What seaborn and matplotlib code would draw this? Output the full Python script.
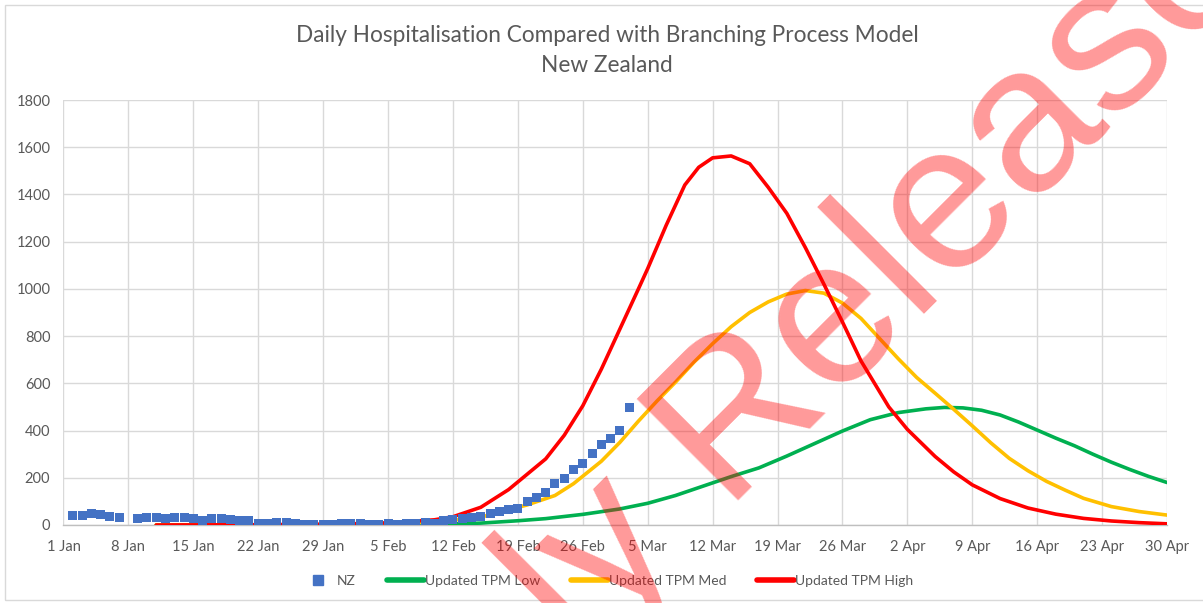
import numpy as np
import pandas as pd
import matplotlib
matplotlib.use("Agg")
import matplotlib.pyplot as plt
from matplotlib.lines import Line2D
from matplotlib.patches import Rectangle
from matplotlib.transforms import IdentityTransform
import seaborn as sns

sns.set_style("white")
plt.rcParams["font.family"] = ["Lato", "DejaVu Sans"]

START = pd.Timestamp("2022-01-01")

# ---------------- data ----------------
nz_days = list(range(1, 62))
nz_values = [42, 42, 50, 44, 36, 31, np.nan, 27, 31, 31, 28, 31, 30, 26, 20, 26,
             26, 22, 20, 17, 5, 5, 10, 10, 5, 4, 4, 4, 4, 8, 8, 6, 3, 3, 8, 4,
             7, 8, 10, 5, 21, 24, 28, 32, 35, 50, 58, 66, 70, 99, 115, 137, 176,
             198, 234, 261, 301, 340, 365, 402, 498]

low_days = [10, 20, 30, 40, 45, 49, 52, 56, 60, 63, 66, 69, 72, 75, 78, 81, 84,
            87, 90, 93, 95, 97, 99, 101, 103, 105, 107, 109, 111, 113, 115, 117, 119]
low_values = [0, 0, 1, 3, 8, 18, 27, 45, 68, 92, 125, 165, 205, 242, 292, 345, 398,
              446, 476, 492, 498, 496, 486, 466, 436, 402, 368, 336, 300, 266, 235, 206, 180]

med_days = [10, 20, 30, 40, 45, 50, 53, 55, 58, 60, 62, 64, 66, 68, 70, 72, 74, 76,
            78, 80, 82, 84, 86, 88, 90, 92, 94, 96, 98, 100, 102, 104, 106, 108,
            110, 113, 116, 119]
med_values = [0, 0, 2, 12, 33, 85, 125, 175, 270, 350, 440, 525, 605, 690, 768, 840,
              900, 945, 978, 993, 982, 940, 875, 790, 705, 625, 558, 490, 420, 348,
              282, 230, 185, 148, 113, 78, 57, 42]

high_days = [10, 20, 30, 35, 40, 42, 45, 48, 50, 52, 54, 56, 58, 60, 62, 63, 65, 67,
             68.5, 70, 72, 74, 76, 78, 80, 82, 84, 86, 89, 91, 94, 96, 98, 101, 104,
             107, 110, 113, 116, 119]
high_values = [0, 1, 4, 9, 22, 35, 75, 150, 215, 280, 380, 505, 660, 830, 1000,
               1086, 1270, 1440, 1515, 1555, 1563, 1530, 1430, 1320, 1175, 1020, 860,
               695, 500, 405, 290, 225, 170, 112, 72, 46, 28, 17, 10, 5]

tick_labels = ["1 Jan", "8 Jan", "15 Jan", "22 Jan", "29 Jan", "5 Feb", "12 Feb",
               "19 Feb", "26 Feb", "5 Mar", "12 Mar", "19 Mar", "26 Mar", "2 Apr",
               "9 Apr", "16 Apr", "23 Apr", "30 Apr"]
y_ticks = [0, 200, 400, 600, 800, 1000, 1200, 1400, 1600, 1800]

title = "Daily Hospitalisation Compared with Branching Process Model\nNew Zealand"
series_names = ["NZ", "Updated TPM Low", "Updated TPM Med", "Updated TPM High"]
colors = {"NZ": "#4472C4", "Updated TPM Low": "#00B050",
          "Updated TPM Med": "#FFC000", "Updated TPM High": "#FF0000"}
watermark = "Proactively Released"


def to_dates(days):
    return START + pd.to_timedelta(days, unit="D")


# ---------------- figure ----------------
W, H = 1203, 603
fig = plt.figure(figsize=(W / 100, H / 100), dpi=100)
ax = fig.add_axes([63.5 / W, 1 - 525 / H, (1167 - 63.5) / W, (525 - 100) / H])

nz_df = pd.DataFrame({"date": to_dates(nz_days), "value": nz_values}).dropna()

line_data = [("Updated TPM Low", low_days, low_values),
             ("Updated TPM Med", med_days, med_values),
             ("Updated TPM High", high_days, high_values)]
for name, d, v in line_data:
    sns.lineplot(x=to_dates(d), y=v, color=colors[name], lw=2.6, ax=ax,
                 legend=False, zorder=3)

sns.scatterplot(data=nz_df, x="date", y="value", marker="s", s=42,
                color=colors["NZ"], edgecolor="none", ax=ax, legend=False,
                zorder=4)

ax.set_xlim(START, START + pd.Timedelta(days=119))
ax.set_ylim(0, 1800)
tick_dates = [START + pd.Timedelta(days=7 * i) for i in range(len(tick_labels))]
ax.set_xticks(tick_dates)
ax.set_xticklabels(tick_labels)
ax.set_yticks(y_ticks)
ax.set_yticklabels([str(t) for t in y_ticks])
ax.set_xlabel("")
ax.set_ylabel("")
ax.grid(True, color="#D9D9D9", lw=1.0)
ax.set_axisbelow(True)
for s in ["top", "right", "left"]:
    ax.spines[s].set_visible(False)
ax.spines["bottom"].set_color("#BFBFBF")
ax.spines["bottom"].set_linewidth(1.0)
ax.tick_params(axis="both", length=0, colors="#595959", labelsize=10.5)
ax.tick_params(axis="x", pad=11)
ax.tick_params(axis="y", pad=9.5)

fig.text(607 / W, 1 - 50.5 / H, title, ha="center", va="center", fontsize=16.3,
         color="#595959", linespacing=1.58)

handles = [Line2D([], [], marker="s", ls="none", color=colors["NZ"], markersize=7)]
handles += [Line2D([], [], color=colors[n], lw=4) for n in series_names[1:]]
fig.legend(handles, series_names, loc="center", bbox_to_anchor=(606 / W, 1 - 581 / H),
           ncol=4, frameon=False, fontsize=10, handlelength=2.7,
           handletextpad=0.05, columnspacing=2.2, labelcolor="#595959")

# chart border
fig.add_artist(Rectangle((5 / W, 3 / H), (W + 10) / W, (H - 8) / H,
                         transform=fig.transFigure, fill=False,
                         edgecolor="#D9D9D9", lw=1.0))

# watermark: place so that the "R" of "Released" starts at a given pixel
wm_size = 150
wm_family = ["Liberation Sans", "DejaVu Sans"]
renderer = fig.canvas.get_renderer()
tmp1 = fig.text(0, 0, "Proactively R", fontsize=wm_size, family=wm_family)
tmp2 = fig.text(0, 0, "R", fontsize=wm_size, family=wm_family)
d_prefix = (tmp1.get_window_extent(renderer).width
            - tmp2.get_window_extent(renderer).width)
tmp1.remove()
tmp2.remove()
ang = np.deg2rad(45)
r_start = np.array([726.0, H - 512.0])  # display pixels, origin bottom-left
pos = r_start - d_prefix * np.array([np.cos(ang), np.sin(ang)])
fig.text(pos[0], pos[1], watermark, transform=IdentityTransform(), rotation=45,
         rotation_mode="anchor", ha="left", va="baseline",
         fontsize=wm_size, color="#FF0000", alpha=0.4, family=wm_family, zorder=10)

fig.savefig("out.png", dpi=100)
